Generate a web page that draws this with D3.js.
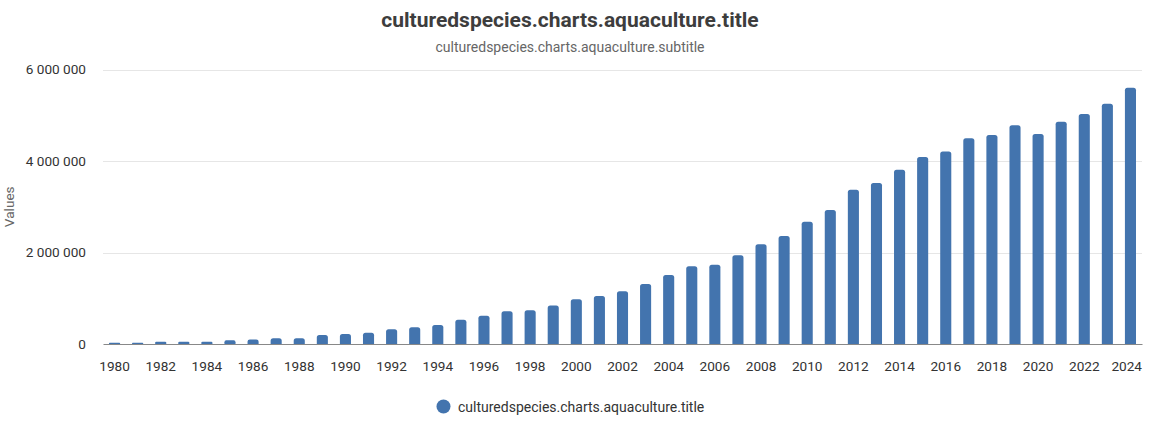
<!DOCTYPE html>
<html><head><meta charset="utf-8">
<script src="https://cdn.jsdelivr.net/npm/d3@7"></script>
<style>
html,body{margin:0;padding:0;background:#fff;}
svg{display:block;font-family:Roboto, "Noto Sans", sans-serif;}
</style>
</head><body>
<svg id="chart" width="1152" height="424"></svg>
<script>
const years = d3.range(1980, 2025).map(String);
const values = [30000, 30000, 50000, 50000, 50000, 80000, 100000, 125000, 125000, 195000,
  220000, 245000, 320000, 365000, 415000, 530000, 620000, 715000, 737000, 840000,
  978000, 1050000, 1153000, 1313000, 1510000, 1700000, 1730000, 1940000, 2180000, 2360000,
  2670000, 2930000, 3370000, 3520000, 3810000, 4090000, 4210000, 4500000, 4570000, 4780000,
  4590000, 4860000, 5030000, 5250000, 5600000];
const yTicks = [0, 2000000, 4000000, 6000000];
const seriesName = "culturedspecies.charts.aquaculture.title";
const titleText = "culturedspecies.charts.aquaculture.title";
const subtitleText = "culturedspecies.charts.aquaculture.subtitle";
const yTitle = "Values";

const svg = d3.select("#chart");
const W = 1152, H = 424;
const m = {left: 103, right: 10, top: 69.5, bottom: 80};
const x = d3.scaleBand().domain(years).range([m.left, W - m.right]).paddingInner(0.52).paddingOuter(0.26);
const y = d3.scaleLinear().domain([0, 6000000]).range([H - m.bottom, m.top]);
const fmt = v => d3.format(",")(v).replace(/,/g, "\u00a0");
const color = "#4374ae";
const cx = 570;

// gridlines
svg.append("g").selectAll("line").data(yTicks.filter(d => d > 0)).join("line")
  .attr("x1", m.left).attr("x2", W - m.right)
  .attr("y1", d => Math.round(y(d)) + 0.5).attr("y2", d => Math.round(y(d)) + 0.5)
  .attr("stroke", "#e6e6e6").attr("stroke-width", 1);

// y axis labels
const yAxis = svg.append("g").attr("transform", `translate(${m.left - 17},0)`)
  .call(d3.axisLeft(y).tickValues(yTicks).tickFormat(fmt).tickSize(0).tickPadding(0));
yAxis.select(".domain").remove();
yAxis.selectAll("text").attr("font-size", 13.6).attr("fill", "#333").attr("font-family", "Roboto");

// bars with rounded top
const r = 2.5;
function barPath(d, i) {
  const x0 = x(years[i]), w = x.bandwidth(), y0 = y(0), y1 = y(d);
  const rr = Math.min(r, (y0 - y1) / 2, w / 2);
  return `M${x0},${y0}V${y1 + rr}Q${x0},${y1} ${x0 + rr},${y1}H${x0 + w - rr}Q${x0 + w},${y1} ${x0 + w},${y1 + rr}V${y0}Z`;
}
svg.append("g").selectAll("path").data(values).join("path")
  .attr("d", barPath).attr("fill", color);

// x axis
const xTicks = years.filter((d, i) => i % 2 === 0);
const xAxis = svg.append("g").attr("transform", `translate(0,${y(0)})`)
  .call(d3.axisBottom(x).tickValues(xTicks).tickSize(0).tickPadding(17));
xAxis.select(".domain").attr("stroke", "#888").attr("stroke-width", 1.2);
xAxis.selectAll("text").attr("font-size", 13.6).attr("fill", "#333").attr("font-family", "Roboto");
// keep last label inside the plot edge
xAxis.selectAll(".tick").filter(d => d === xTicks[xTicks.length - 1]).select("text")
  .attr("text-anchor", "end").attr("x", W - m.right - (x(xTicks[xTicks.length - 1]) + x.bandwidth() / 2));

// titles
svg.append("text").attr("x", cx).attr("y", 27).attr("text-anchor", "middle")
  .attr("font-size", 21).attr("font-weight", "bold").attr("fill", "#3d3d3d").text(titleText);
svg.append("text").attr("x", cx).attr("y", 52).attr("text-anchor", "middle")
  .attr("font-size", 14).attr("fill", "#666").text(subtitleText);

// y title
svg.append("text").attr("transform", `translate(14,${(y(0) + y(6000000)) / 2}) rotate(-90)`)
  .attr("text-anchor", "middle").attr("font-size", 13.6).attr("fill", "#666").text(yTitle);

// legend
const lg = svg.append("g");
lg.append("circle").attr("cx", 443.5).attr("cy", 406.5).attr("r", 7).attr("fill", color);
lg.append("text").attr("x", 458).attr("y", 411.5).attr("font-size", 14).attr("fill", "#333").text(seriesName);
</script>
</body></html>
